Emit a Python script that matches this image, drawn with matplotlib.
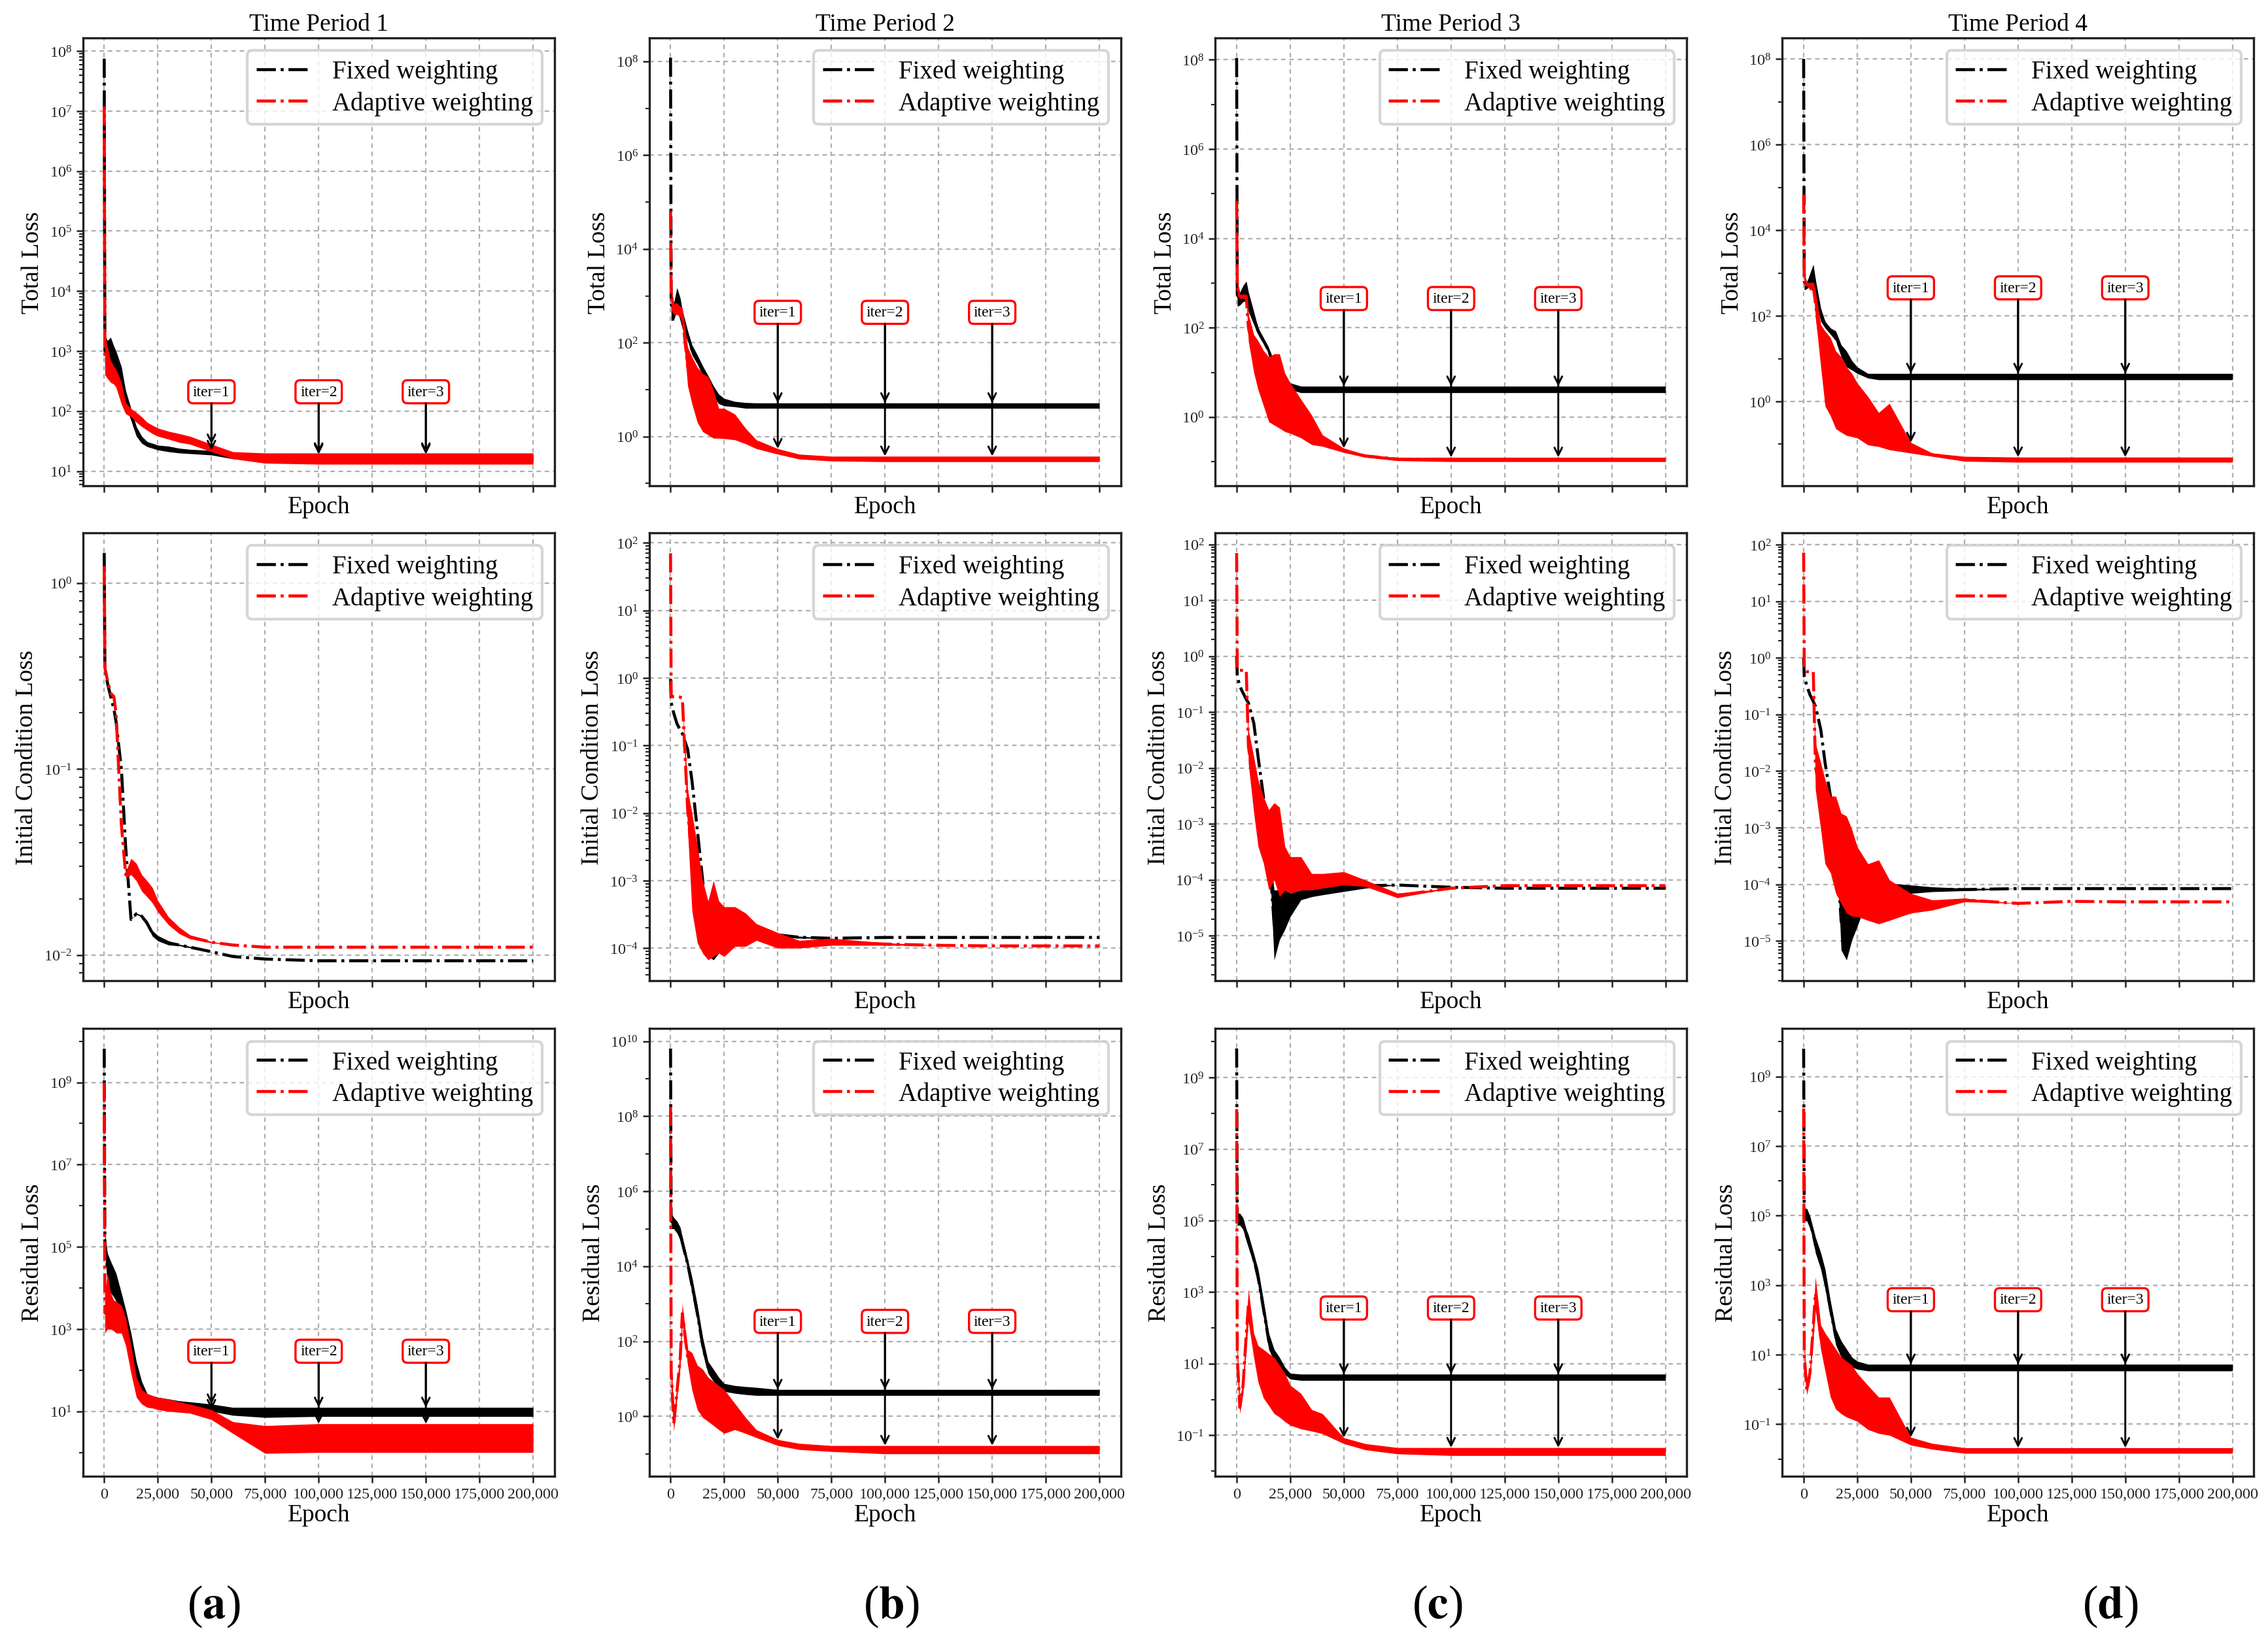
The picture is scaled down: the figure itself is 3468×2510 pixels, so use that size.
import numpy as np
import matplotlib
matplotlib.use("Agg")
import matplotlib.pyplot as plt
from matplotlib.ticker import FixedLocator, NullFormatter, FuncFormatter, LogFormatterSciNotation

plt.rcParams['font.family'] = ['Liberation Serif', 'DejaVu Serif']
plt.rcParams['mathtext.fontset'] = 'stix'

# ---------------- data ----------------
EPOCHS = [0, 300, 1500, 3000, 4500, 5500, 8000, 10000, 12500, 15000, 17500, 20000, 22500,
          25000, 30000, 35000, 40000, 50000, 60000, 75000, 100000, 125000, 150000, 175000, 200000]

TIME_PERIODS = ['Time Period 1', 'Time Period 2', 'Time Period 3', 'Time Period 4']
PANEL_LETTERS = ['a', 'b', 'c', 'd']
ROW_LABELS = ['Total Loss', 'Initial Condition Loss', 'Residual Loss']
SERIES_NAMES = ['Fixed weighting', 'Adaptive weighting']
ITER_EPOCHS = [50000, 100000, 150000]
ITER_LABELS = ['iter=1', 'iter=2', 'iter=3']
X_TICKS = [0, 25000, 50000, 75000, 100000, 125000, 150000, 175000, 200000]

# Total loss (lower / upper envelope of the noisy curves)
TOTAL1_FIXED_LO = [7.5e7, 600, 500, 400, 380, 350, 250, 120, 70, 38, 29, 25.5, 24, 22.5, 21, 20, 19.5, 18.5, 16, 14.5, 14, 14, 14, 14, 14]
TOTAL1_FIXED_HI = [7.5e7, 1800, 1500, 1700, 1200, 1000, 550, 220, 110, 55, 38, 31, 29, 27, 26, 24, 23, 22, 20, 19, 19, 19, 19, 19, 19]
TOTAL1_ADAPT_LO = [1.2e7, 400, 350, 300, 280, 250, 130, 90, 80, 65, 55, 48, 42, 38, 34, 30, 28, 21, 16, 13.5, 13, 13, 13, 13, 13]
TOTAL1_ADAPT_HI = [1.2e7, 1800, 1200, 700, 550, 500, 300, 140, 110, 95, 80, 65, 58, 52, 46, 42, 38, 28, 21, 20, 20, 20, 20, 20, 20]

TOTAL2_FIXED_LO = [1.2e8, 300, 300, 500, 300, 200, 110, 55, 35, 20, 12, 7, 5, 4.5, 4.3, 4.0, 4.0, 4.0, 4.0, 4.0, 4.0, 4.0, 4.0, 4.0, 4.0]
TOTAL2_FIXED_HI = [1.2e8, 1500, 700, 1500, 900, 500, 180, 90, 55, 32, 20, 12, 8, 6.5, 5.6, 5.3, 5.2, 5.2, 5.2, 5.2, 5.2, 5.2, 5.2, 5.2, 5.2]
TOTAL2_ADAPT_LO = [6.5e4, 500, 400, 400, 350, 250, 12, 5, 2, 1.27, 1.08, 0.92, 0.92, 0.9, 0.85, 0.7, 0.55, 0.42, 0.33, 0.30, 0.29, 0.29, 0.29, 0.29, 0.29]
TOTAL2_ADAPT_HI = [6.5e4, 1600, 700, 700, 600, 550, 80, 50, 30, 22, 19, 10, 4, 4, 3, 1.5, 0.85, 0.55, 0.42, 0.38, 0.38, 0.38, 0.38, 0.38, 0.38]

TOTAL3_FIXED_LO = [1.1e8, 300, 320, 380, 400, 230, 118, 71, 43, 26, 9.6, 7, 4.9, 4.1, 3.5, 3.5, 3.5, 3.5, 3.5, 3.5, 3.5, 3.5, 3.5, 3.5, 3.5]
TOTAL3_FIXED_HI = [1.1e8, 1000, 620, 880, 1100, 630, 230, 100, 60, 36, 16, 11, 8, 5.8, 4.9, 4.9, 4.9, 4.9, 4.9, 4.9, 4.9, 4.9, 4.9, 4.9, 4.9]
TOTAL3_ADAPT_LO = [7e4, 530, 450, 450, 450, 50, 10, 4.1, 1.8, 0.78, 0.66, 0.56, 0.47, 0.43, 0.34, 0.24, 0.22, 0.16, 0.125, 0.105, 0.10, 0.10, 0.10, 0.10, 0.10]
TOTAL3_ADAPT_HI = [7e4, 1230, 560, 560, 560, 200, 70, 51, 31, 22, 26, 26, 9.6, 5.8, 2.5, 1.1, 0.4, 0.2, 0.145, 0.124, 0.125, 0.125, 0.125, 0.125, 0.125]

TOTAL4_FIXED_LO = [1e8, 400, 430, 500, 600, 250, 74, 52, 37, 26, 11, 6.4, 5.4, 4.5, 3.5, 3.2, 3.2, 3.2, 3.2, 3.2, 3.2, 3.2, 3.2, 3.2, 3.2]
TOTAL4_FIXED_HI = [1e8, 1000, 600, 1000, 1600, 720, 150, 74, 52, 44, 21, 15, 9, 6.4, 4.5, 4.5, 4.5, 4.5, 4.5, 4.5, 4.5, 4.5, 4.5, 4.5, 4.5]
TOTAL4_ADAPT_LO = [6.8e4, 500, 500, 400, 400, 100, 6.4, 0.78, 0.46, 0.23, 0.19, 0.16, 0.15, 0.14, 0.096, 0.088, 0.074, 0.062, 0.052, 0.04, 0.038, 0.038, 0.038, 0.038, 0.038]
TOTAL4_ADAPT_HI = [6.8e4, 1000, 600, 600, 600, 400, 62, 44, 31, 15, 11, 6.4, 4.5, 2.7, 1.3, 0.55, 0.9, 0.11, 0.062, 0.052, 0.05, 0.05, 0.05, 0.05, 0.05]

# Initial condition loss
IC1_FIXED_LO = [1.45, 0.35, 0.29, 0.245, 0.21, 0.18, 0.1, 0.038, 0.0155, 0.0165, 0.016, 0.0143, 0.0126, 0.0119, 0.0113, 0.0112, 0.0109, 0.0104, 0.0098, 0.0095, 0.0093, 0.0093, 0.0093, 0.0093, 0.0093]
IC1_FIXED_HI = [1.45, 0.35, 0.29, 0.245, 0.21, 0.18, 0.1, 0.038, 0.0155, 0.0168, 0.0163, 0.0153, 0.0135, 0.0127, 0.0119, 0.0114, 0.0111, 0.0104, 0.0098, 0.0095, 0.0093, 0.0093, 0.0093, 0.0093, 0.0093]
IC1_ADAPT_LO = [1.23, 0.35, 0.3, 0.255, 0.245, 0.2, 0.05, 0.026, 0.027, 0.025, 0.022, 0.0205, 0.019, 0.017, 0.0145, 0.013, 0.0122, 0.0116, 0.0113, 0.011, 0.011, 0.011, 0.011, 0.011, 0.011]
IC1_ADAPT_HI = [1.23, 0.35, 0.3, 0.255, 0.245, 0.2, 0.05, 0.028, 0.033, 0.031, 0.027, 0.025, 0.023, 0.0196, 0.016, 0.0141, 0.0128, 0.0118, 0.0113, 0.011, 0.011, 0.011, 0.011, 0.011, 0.011]

IC2_FIXED_LO = [0.97, 0.43, 0.3, 0.21, 0.17, 0.15, 0.087, 0.03, 0.0056, 1e-3, 7.6e-5, 6.7e-5, 8.4e-5, 9.5e-5, 1.2e-4, 1.35e-4, 1.5e-4, 1.5e-4, 1.4e-4, 1.4e-4, 1.44e-4, 1.44e-4, 1.44e-4, 1.44e-4, 1.44e-4]
IC2_FIXED_HI = [0.97, 0.43, 0.3, 0.21, 0.17, 0.15, 0.087, 0.03, 0.0056, 1e-3, 1.9e-4, 1.2e-4, 1.5e-4, 1.7e-4, 1.7e-4, 1.8e-4, 1.9e-4, 1.65e-4, 1.5e-4, 1.4e-4, 1.44e-4, 1.44e-4, 1.44e-4, 1.44e-4, 1.44e-4]
IC2_ADAPT_LO = [70, 0.53, 0.53, 0.53, 0.52, 0.5, 5.6e-3, 3.6e-4, 1.2e-4, 8.4e-5, 6.7e-5, 7.5e-5, 8.4e-5, 7.5e-5, 1.06e-4, 1.06e-4, 1.3e-4, 1e-4, 1e-4, 1.1e-4, 1.1e-4, 1.1e-4, 1.08e-4, 1.08e-4, 1.08e-4]
IC2_ADAPT_HI = [70, 0.53, 0.53, 0.53, 0.52, 0.5, 0.022, 0.01, 3.3e-3, 1e-3, 5e-4, 1e-3, 5e-4, 4.1e-4, 4.1e-4, 3.3e-4, 2.3e-4, 1.7e-4, 1.3e-4, 1.4e-4, 1.2e-4, 1.1e-4, 1.08e-4, 1.08e-4, 1.08e-4]

IC3_FIXED_LO = [1.0, 0.44, 0.29, 0.22, 0.17, 0.147, 0.064, 0.016, 3.1e-3, 4e-4, 3.7e-6, 8.5e-6, 1.3e-5, 2.2e-5, 4.4e-5, 5e-5, 5.4e-5, 6.2e-5, 7.1e-5, 8.1e-5, 7.4e-5, 7.1e-5, 7.1e-5, 7.1e-5, 7.1e-5]
IC3_FIXED_HI = [1.0, 0.44, 0.29, 0.22, 0.17, 0.147, 0.064, 0.016, 3.1e-3, 4e-4, 6.6e-5, 6.6e-5, 6.6e-5, 5.8e-5, 6.6e-5, 7.6e-5, 7.6e-5, 8.7e-5, 8.7e-5, 8.1e-5, 7.4e-5, 7.1e-5, 7.1e-5, 7.1e-5, 7.1e-5]
IC3_ADAPT_LO = [70, 0.58, 0.56, 0.56, 0.56, 0.012, 1.6e-3, 4e-4, 2e-4, 6.6e-5, 1e-4, 5e-5, 6.6e-5, 5.8e-5, 6.6e-5, 6.6e-5, 7.1e-5, 8.1e-5, 7.6e-5, 4.8e-5, 7.1e-5, 7.9e-5, 7.9e-5, 7.9e-5, 7.9e-5]
IC3_ADAPT_HI = [70, 0.58, 0.56, 0.56, 0.56, 0.049, 0.016, 6.2e-3, 3.1e-3, 1.8e-3, 2.4e-3, 2e-3, 4e-4, 2.6e-4, 2.6e-4, 1.3e-4, 1.3e-4, 1.4e-4, 1e-4, 5.8e-5, 7.1e-5, 7.9e-5, 7.9e-5, 7.9e-5, 7.9e-5]

IC4_FIXED_LO = [1.0, 0.47, 0.32, 0.22, 0.17, 0.14, 0.054, 0.014, 3.6e-3, 9.3e-4, 6.9e-6, 4.6e-6, 1.04e-5, 1.8e-5, 6e-5, 7.9e-5, 6.9e-5, 6.9e-5, 7.4e-5, 7.7e-5, 8.4e-5, 8.4e-5, 8.4e-5, 8.4e-5, 8.4e-5]
IC4_FIXED_HI = [1.0, 0.47, 0.32, 0.22, 0.17, 0.14, 0.054, 0.014, 3.6e-3, 9.3e-4, 6.9e-5, 6e-5, 6e-5, 6.9e-5, 1.2e-4, 1.2e-4, 1.04e-4, 9.7e-5, 9e-5, 8.5e-5, 8.4e-5, 8.4e-5, 8.4e-5, 8.4e-5, 8.4e-5]
IC4_ADAPT_LO = [72, 0.62, 0.57, 0.57, 0.57, 4.7e-3, 9.3e-4, 2.3e-4, 1.6e-4, 6.9e-5, 4.6e-5, 3.1e-5, 2.7e-5, 2.7e-5, 2.3e-5, 2e-5, 2.3e-5, 3.1e-5, 3.5e-5, 4.9e-5, 4.6e-5, 5e-5, 4.9e-5, 4.9e-5, 4.9e-5]
IC4_ADAPT_HI = [72, 0.62, 0.57, 0.57, 0.57, 0.031, 0.014, 7.1e-3, 3.6e-3, 3.6e-3, 1.8e-3, 1.6e-3, 9.3e-4, 4.6e-4, 2.3e-4, 2.7e-4, 1.2e-4, 6.9e-5, 5.3e-5, 5.7e-5, 4.6e-5, 5e-5, 4.9e-5, 4.9e-5, 4.9e-5]

# Residual loss
RES1_FIXED_LO = [6.6e9, 7e4, 1.2e4, 7.6e3, 6e3, 4.8e3, 2e3, 8e2, 2e2, 53, 27, 17, 15, 14, 12.5, 12.5, 11.7, 10, 8, 7.1, 7.5, 7.5, 7.5, 7.5, 7.5]
RES1_FIXED_HI = [6.6e9, 2.2e5, 7e4, 4.5e4, 3e4, 2.3e4, 7.6e3, 3e3, 8e2, 160, 53, 27, 24, 22, 20, 18, 17, 15, 12.5, 12.5, 12.5, 12.5, 12.5, 12.5, 12.5]
RES1_ADAPT_LO = [9.8e8, 8e2, 1e3, 1e3, 900, 800, 800, 400, 84, 22, 15, 12.5, 12, 11, 10, 9.5, 9, 6.3, 2.9, 0.95, 1.0, 1.0, 1.0, 1.0, 1.0]
RES1_ADAPT_HI = [9.8e8, 7.6e3, 2.3e4, 7.6e3, 5e3, 4.8e3, 3.8e3, 1.9e3, 4e2, 67, 34, 27, 24, 22, 20, 17, 15, 11, 5.6, 4.5, 5.0, 5.0, 5.0, 5.0, 5.0]

RES2_FIXED_LO = [6.4e9, 1e5, 1e5, 7.7e4, 5e4, 2.9e4, 8.5e3, 1.9e3, 3.4e2, 48, 14, 8.5, 5.9, 4.6, 4.1, 3.8, 3.6, 3.6, 3.6, 3.6, 3.6, 3.6, 3.6, 3.6, 3.6]
RES2_FIXED_HI = [6.4e9, 2.6e5, 2e5, 1.6e5, 1.1e5, 6.1e4, 1.55e4, 5.1e3, 9.1e2, 127, 29, 18, 11, 7.5, 6.6, 6.2, 5.9, 5.2, 5.2, 5.2, 5.2, 5.2, 5.2, 5.2, 5.2]
RES2_ADAPT_LO = [1.8e8, 5, 0.4, 3, 20, 300, 23, 5, 1.5, 0.93, 0.73, 0.57, 0.44, 0.35, 0.44, 0.35, 0.27, 0.166, 0.13, 0.115, 0.1, 0.1, 0.1, 0.1, 0.1]
RES2_ADAPT_HI = [1.8e8, 50, 1.0, 7, 60, 1000, 60, 50, 23, 18, 11, 8.5, 6.6, 5.2, 2.2, 0.93, 0.44, 0.24, 0.19, 0.166, 0.166, 0.166, 0.166, 0.166, 0.166]

RES3_FIXED_LO = [6.5e9, 7.4e4, 7.4e4, 5.7e4, 2.7e4, 1.8e4, 5.7e3, 1.6e3, 2e2, 25, 11.7, 7, 5, 3.7, 3.4, 3.4, 3.4, 3.4, 3.4, 3.4, 3.4, 3.4, 3.4, 3.4, 3.4]
RES3_FIXED_HI = [6.5e9, 1.6e5, 1.6e5, 1.2e5, 5.7e4, 4e4, 1.2e4, 4.4e3, 6e2, 71, 25, 15, 8, 5.4, 5.1, 5.1, 5.1, 5.1, 5.1, 5.1, 5.1, 5.1, 5.1, 5.1, 5.1]
RES3_ADAPT_LO = [1.3e8, 5, 0.4, 1.5, 30, 150, 15, 3.1, 1.1, 0.67, 0.4, 0.32, 0.24, 0.19, 0.15, 0.13, 0.11, 0.058, 0.039, 0.03, 0.027, 0.027, 0.027, 0.027, 0.027]
RES3_ADAPT_HI = [1.3e8, 50, 0.9, 4, 150, 1200, 71, 32, 25, 19, 15, 9, 5.4, 2.5, 1.47, 0.52, 0.4, 0.085, 0.058, 0.045, 0.045, 0.045, 0.045, 0.045, 0.045]

RES4_FIXED_LO = [6.3e9, 7e4, 7e4, 4.2e4, 1.9e4, 8.5e3, 2.9e3, 7.8e2, 1.2e2, 19, 8.5, 5, 4.4, 3.8, 3.4, 3.4, 3.4, 3.4, 3.4, 3.4, 3.4, 3.4, 3.4, 3.4, 3.4]
RES4_FIXED_HI = [6.3e9, 1.6e5, 1.6e5, 9.5e4, 4.2e4, 2.4e4, 8.5e3, 2.9e3, 3.5e2, 55, 25, 14.5, 8.5, 6.5, 5.3, 5.3, 5.3, 5.3, 5.3, 5.3, 5.3, 5.3, 5.3, 5.3, 5.3]
RES4_ADAPT_LO = [1.2e8, 3, 0.7, 2, 30, 200, 14, 3.4, 0.6, 0.27, 0.2, 0.16, 0.14, 0.12, 0.07, 0.054, 0.048, 0.025, 0.019, 0.0145, 0.0145, 0.0145, 0.0145, 0.0145, 0.0145]
RES4_ADAPT_HI = [1.2e8, 30, 1.2, 5, 150, 1700, 71, 42, 25, 14.5, 8.5, 6.5, 5, 2.9, 1.3, 0.6, 0.6, 0.042, 0.028, 0.021, 0.021, 0.021, 0.021, 0.021, 0.021]

# y-axis ranges (log10 exponents) and tick stride per panel
TOTAL_YLIM_EXP = [(0.755, 8.22), (-1.05, 8.5), (-1.54, 8.49), (-1.97, 8.49)]
IC_YLIM_EXP = [(-2.138, 0.27), (-4.48, 2.15), (-5.8, 2.21), (-5.7, 2.21)]
RES_YLIM_EXP = [(-0.58, 10.31), (-1.6, 10.34), (-2.15, 10.37), (-2.5, 10.38)]
TOTAL_STRIDE = [1, 2, 2, 2]
IC_STRIDE = [1, 1, 1, 1]
RES_STRIDE = [2, 2, 2, 2]

# heights of the "iter" label boxes
TOTAL_BOX_Y = [210, 445, 450, 450]
RES_BOX_Y = [290, 340, 360, 380]

PANELS = [
    [(TOTAL1_FIXED_LO, TOTAL1_FIXED_HI, TOTAL1_ADAPT_LO, TOTAL1_ADAPT_HI),
     (TOTAL2_FIXED_LO, TOTAL2_FIXED_HI, TOTAL2_ADAPT_LO, TOTAL2_ADAPT_HI),
     (TOTAL3_FIXED_LO, TOTAL3_FIXED_HI, TOTAL3_ADAPT_LO, TOTAL3_ADAPT_HI),
     (TOTAL4_FIXED_LO, TOTAL4_FIXED_HI, TOTAL4_ADAPT_LO, TOTAL4_ADAPT_HI)],
    [(IC1_FIXED_LO, IC1_FIXED_HI, IC1_ADAPT_LO, IC1_ADAPT_HI),
     (IC2_FIXED_LO, IC2_FIXED_HI, IC2_ADAPT_LO, IC2_ADAPT_HI),
     (IC3_FIXED_LO, IC3_FIXED_HI, IC3_ADAPT_LO, IC3_ADAPT_HI),
     (IC4_FIXED_LO, IC4_FIXED_HI, IC4_ADAPT_LO, IC4_ADAPT_HI)],
    [(RES1_FIXED_LO, RES1_FIXED_HI, RES1_ADAPT_LO, RES1_ADAPT_HI),
     (RES2_FIXED_LO, RES2_FIXED_HI, RES2_ADAPT_LO, RES2_ADAPT_HI),
     (RES3_FIXED_LO, RES3_FIXED_HI, RES3_ADAPT_LO, RES3_ADAPT_HI),
     (RES4_FIXED_LO, RES4_FIXED_HI, RES4_ADAPT_LO, RES4_ADAPT_HI)],
]
YLIMS = [TOTAL_YLIM_EXP, IC_YLIM_EXP, RES_YLIM_EXP]
STRIDES = [TOTAL_STRIDE, IC_STRIDE, RES_STRIDE]
BOXES = [TOTAL_BOX_Y, None, RES_BOX_Y]

# ---------------- layout ----------------
W_PX, H_PX, DPI = 3468, 2511, 300
fig = plt.figure(figsize=(W_PX / DPI, H_PX / DPI), dpi=DPI)

COL_LEFT = [0.0365, 0.2862, 0.5358, 0.7858]
ROW_BOTTOM = [0.7037, 0.4023, 0.1003]
AX_W, AX_H = 0.2080, 0.2728
COLORS = ['#000000', '#ff0000']
LETTER_X = [0.0943, 0.3930, 0.6338, 0.9305]
LETTER_Y = 0.0215

EP = np.array(EPOCHS, dtype=float)


def interp_log(x, ys):
    return 10 ** np.interp(x, EP, np.log10(np.asarray(ys, dtype=float)))


for r in range(3):
    for c in range(4):
        ax = fig.add_axes([COL_LEFT[c], ROW_BOTTOM[r], AX_W, AX_H])
        ax.set_yscale('log')
        fl, fh, al, ah = PANELS[r][c]
        for k, (lo, hi) in enumerate([(fl, fh), (al, ah)]):
            lo = np.asarray(lo, dtype=float)
            hi = np.asarray(hi, dtype=float)
            mid = np.sqrt(lo * hi)
            z = 2 + k
            ax.fill_between(EP, lo, hi, color=COLORS[k], lw=0, zorder=z)
            ax.plot(EP, mid, ls='-.', color=COLORS[k], lw=1.1, label=SERIES_NAMES[k], zorder=z + 0.1)

        ylo, yhi = YLIMS[r][c]
        ax.set_xlim(-10000, 210000)
        ax.set_ylim(10 ** ylo, 10 ** yhi)
        stride = STRIDES[r][c]
        start = int(np.floor(ylo)) - stride
        exps = np.arange(start, int(np.ceil(yhi)) + stride, stride)
        exps = exps[(exps >= ylo) & (exps <= yhi)]
        ax.yaxis.set_major_locator(FixedLocator(10.0 ** exps))
        ax.yaxis.set_major_formatter(LogFormatterSciNotation())
        if stride == 1:
            minors = [m * 10.0 ** e for e in range(int(np.floor(ylo)), int(np.ceil(yhi)) + 1)
                      for m in range(2, 10)]
        else:
            minors = [10.0 ** e for e in range(int(np.floor(ylo)), int(np.ceil(yhi)) + 1)
                      if e not in set(exps.tolist())]
        minors = [m for m in minors if 10 ** ylo <= m <= 10 ** yhi]
        ax.yaxis.set_minor_locator(FixedLocator(minors))
        ax.yaxis.set_minor_formatter(NullFormatter())

        ax.set_xticks(X_TICKS)
        if r < 2:
            ax.tick_params(axis='x', labelbottom=False)
        else:
            ax.xaxis.set_major_formatter(FuncFormatter(lambda v, p: f'{int(round(v)):,}'))

        ax.tick_params(axis='both', which='major', direction='out', length=2.5, width=0.6,
                       labelsize=5.8, pad=1.5, colors='#222222')
        ax.tick_params(axis='both', which='minor', direction='out', length=1.4, width=0.5,
                       colors='#222222')
        for sp in ax.spines.values():
            sp.set_linewidth(0.8)
            sp.set_color('#222222')
        ax.grid(True, which='major', ls=(0, (3, 2.5)), color='#b0b0b0', lw=0.55)
        ax.set_axisbelow(True)

        ax.set_xlabel('Epoch', fontsize=9, labelpad=1)
        ax.set_ylabel(ROW_LABELS[r], fontsize=9, labelpad=2)
        if r == 0:
            ax.set_title(TIME_PERIODS[c], fontsize=9, pad=3)

        ax.legend(loc='upper right', fontsize=9.3, handlelength=2.2, handletextpad=0.8,
                  labelspacing=0.28, borderpad=0.35, framealpha=0.8, edgecolor='0.8',
                  fancybox=True)

        if BOXES[r] is not None:
            by = BOXES[r][c]
            for xe, lab in zip(ITER_EPOCHS, ITER_LABELS):
                yf = interp_log(xe, fh)
                ya = interp_log(xe, ah)
                aprops = dict(arrowstyle='->', color='black', lw=0.7, shrinkA=0, shrinkB=0,
                              mutation_scale=7)
                ann = ax.annotate(lab, xy=(xe, yf), xytext=(xe, by), ha='center', va='center',
                                  fontsize=5.7, zorder=6,
                                  bbox=dict(boxstyle='round,pad=0.3', fc='white', ec='red', lw=0.8),
                                  arrowprops=aprops)
                ax.annotate('', xy=(xe, ya), xytext=(0.5, 0), textcoords=ann.get_bbox_patch(),
                            arrowprops=aprops, zorder=6.1)

for c in range(4):
    fig.text(LETTER_X[c], LETTER_Y, '(' + r'$\mathbf{' + PANEL_LETTERS[c] + '}$' + ')',
             fontsize=17, ha='center', va='center')

fig.savefig('out.png', dpi=DPI)
